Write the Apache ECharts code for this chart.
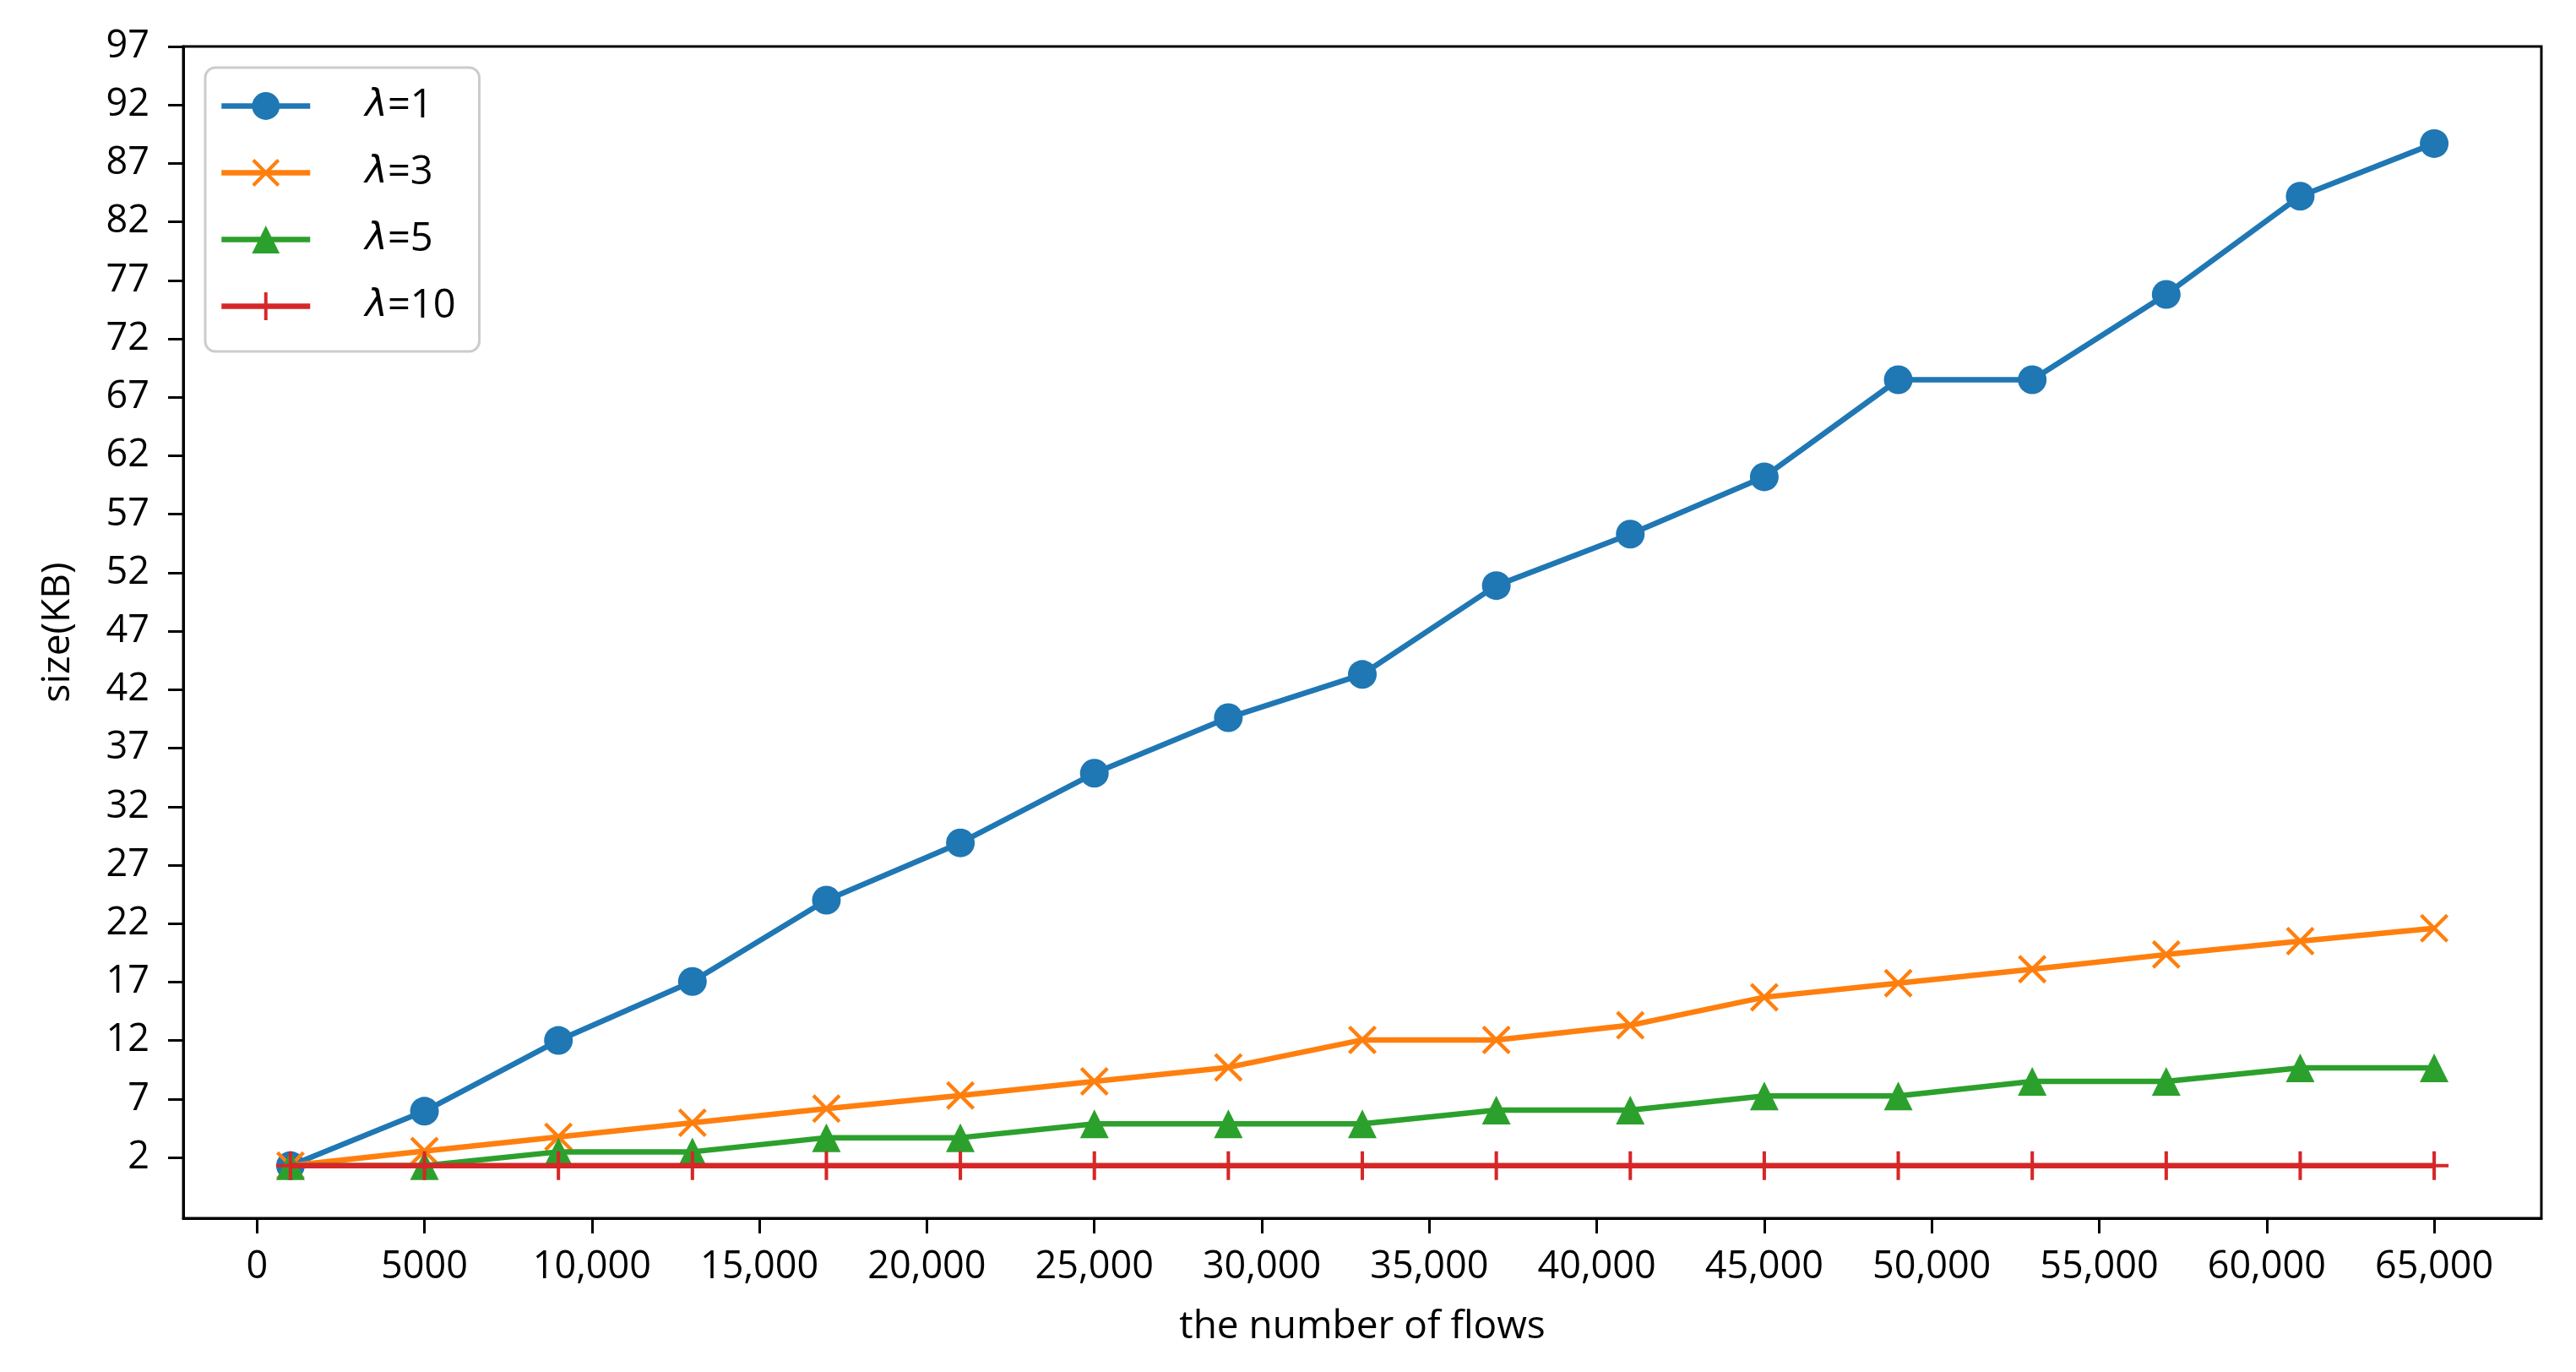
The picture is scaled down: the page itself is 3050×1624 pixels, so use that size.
<!DOCTYPE html>
<html>
<head>
<meta charset="utf-8">
<script src="https://cdn.jsdelivr.net/npm/echarts@6/dist/echarts.min.js"></script>
<style>
html, body { margin: 0; padding: 0; background: #fff; }
#chart { width: 3050px; height: 1624px; }
</style>
</head>
<body>
<div id="chart"></div>
<script>
// ---- data ----
const xValues = [1000, 5000, 9000, 13000, 17000, 21000, 25000, 29000, 33000, 37000, 41000, 45000, 49000, 53000, 57000, 61000, 65000];
const lambda1 = [1.3, 5.95, 12.0, 17.05, 24.0, 28.9, 34.85, 39.6, 43.3, 50.9, 55.3, 60.2, 68.5, 68.5, 75.8, 84.2, 88.7];
const lambda3 = [1.3, 2.55, 3.76, 4.96, 6.17, 7.3, 8.5, 9.7, 12.05, 12.05, 13.3, 15.7, 16.9, 18.1, 19.35, 20.5, 21.6];
const lambda5 = [1.3, 1.3, 2.48, 2.48, 3.69, 3.69, 4.88, 4.88, 4.88, 6.05, 6.05, 7.25, 7.25, 8.5, 8.5, 9.66, 9.66];
const lambda10 = [1.3, 1.3, 1.3, 1.3, 1.3, 1.3, 1.3, 1.3, 1.3, 1.3, 1.3, 1.3, 1.3, 1.3, 1.3, 1.3, 1.3];
const seriesNames = ['λ=1', 'λ=3', 'λ=5', 'λ=10'];
const xTicks = [0, 5000, 10000, 15000, 20000, 25000, 30000, 35000, 40000, 45000, 50000, 55000, 60000, 65000];
const xTickLabels = ['0', '5000', '10,000', '15,000', '20,000', '25,000', '30,000', '35,000', '40,000', '45,000', '50,000', '55,000', '60,000', '65,000'];
const yTicks = [2, 7, 12, 17, 22, 27, 32, 37, 42, 47, 52, 57, 62, 67, 72, 77, 82, 87, 92, 97];
const xTitle = 'the number of flows';
const yTitle = 'size(KB)';

// ---- styles ----
const colors = ['#1f77b4', '#ff7f0e', '#2ca02c', '#d62728'];
const FONT = 'Open Sans';
const plusPath = 'path://M0.44,0 L0.56,0 L0.56,0.44 L1,0.44 L1,0.56 L0.56,0.56 L0.56,1 L0.44,1 L0.44,0.56 L0,0.56 L0,0.44 L0.44,0.44 Z';
const xPath = 'path://M0.09,0 L0.5,0.41 L0.91,0 L1,0.09 L0.59,0.5 L1,0.91 L0.91,1 L0.5,0.59 L0.09,1 L0,0.91 L0.41,0.5 L0,0.09 Z';
const symbols = ['circle', xPath, 'triangle', plusPath];
const LINE_W = 6.5;

function pairs(ys) { return xValues.map((x, i) => [x, ys[i]]); }
const allY = [lambda1, lambda3, lambda5, lambda10];

const chart = echarts.init(document.getElementById('chart'), null, { renderer: 'canvas' });
chart.setOption({
  animation: false,
  backgroundColor: '#fff',
  grid: {
    left: 217, top: 55, right: 41, bottom: 182,
    show: true, borderColor: '#000', borderWidth: 3, backgroundColor: 'transparent'
  },
  legend: {
    left: 243, top: 80,
    orient: 'vertical',
    itemWidth: 105, itemHeight: 41, itemGap: 32,
    padding: [22, 28, 30, 16],
    borderColor: '#cccccc', borderWidth: 3, borderRadius: 12,
    backgroundColor: 'rgba(255,255,255,0.8)',
    lineStyle: { width: LINE_W },
    data: seriesNames,
    formatter: function (name) { return '{i|λ}' + name.slice(1); },
    textStyle: {
      fontFamily: FONT, fontSize: 47, color: '#000', padding: [0, 0, 0, 60],
      rich: { i: { fontFamily: 'DejaVu Sans', fontStyle: 'italic', fontSize: 45, color: '#000' } }
    }
  },
  xAxis: {
    type: 'value', min: -2200, max: 68200,
    name: xTitle, nameLocation: 'middle', nameGap: 106,
    nameTextStyle: { fontFamily: FONT, fontSize: 46, color: '#000' },
    splitLine: { show: false },
    axisLine: { show: true, onZero: false, lineStyle: { color: '#000', width: 3 } },
    axisTick: { show: true, length: 18, lineStyle: { color: '#000', width: 3 }, customValues: xTicks },
    axisLabel: {
      fontFamily: FONT, fontSize: 45, color: '#000', margin: 36,
      customValues: xTicks,
      formatter: function (v) { const k = xTicks.indexOf(v); return k >= 0 ? xTickLabels[k] : ''; }
    }
  },
  yAxis: {
    type: 'value', min: -3.2, max: 97,
    name: yTitle, nameLocation: 'middle', nameGap: 125,
    nameTextStyle: { fontFamily: FONT, fontSize: 46, color: '#000' },
    splitLine: { show: false },
    axisLine: { show: true, onZero: false, lineStyle: { color: '#000', width: 3 } },
    axisTick: { show: true, length: 18, lineStyle: { color: '#000', width: 3 }, customValues: yTicks },
    axisLabel: {
      fontFamily: FONT, fontSize: 45, color: '#000', margin: 40,
      customValues: yTicks
    }
  },
  series: seriesNames.map((name, i) => ({
    name: name,
    type: 'line',
    data: pairs(allY[i]),
    symbol: symbols[i],
    symbolSize: 34,
    showAllSymbol: true,
    color: colors[i],
    lineStyle: { color: colors[i], width: LINE_W },
    itemStyle: { color: colors[i] },
    emphasis: { disabled: true },
    z: 2 + i
  }))
});
</script>
</body>
</html>
